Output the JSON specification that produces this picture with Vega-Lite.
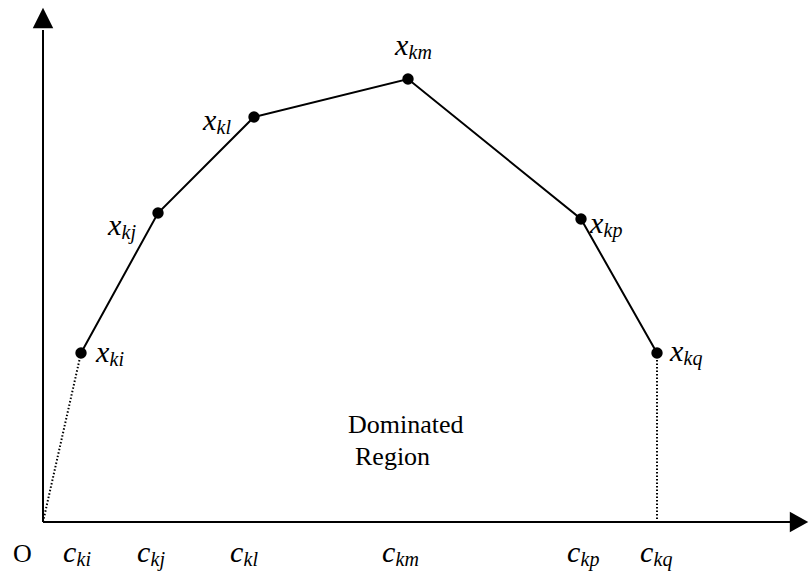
{
  "$schema": "https://vega.github.io/schema/vega-lite/v6.json",
  "width": 809,
  "height": 571,
  "padding": 0,
  "autosize": {"type": "fit", "contains": "padding"},
  "config": {"view": {"stroke": null}},
  "datasets": {
    "axes": [
      {"x": 0, "y": 0, "x2": 0, "y2": 49.2},
      {"x": 0, "y": 0, "x2": 75.2, "y2": 0}
    ],
    "dotted": [
      {"x": 0, "y": 0, "x2": 3.8, "y2": 16.9},
      {"x": 61.4, "y": 16.9, "x2": 61.4, "y2": 0}
    ],
    "upArrow": [{"x": 0, "y": 50.4}],
    "rightArrow": [{"x": 75.5, "y": 0}],
    "frontier": [
      {"i": 1, "name": "ki", "x": 3.8, "y": 16.9},
      {"i": 2, "name": "kj", "x": 11.5, "y": 30.9},
      {"i": 3, "name": "kl", "x": 21.1, "y": 40.5},
      {"i": 4, "name": "km", "x": 36.5, "y": 44.3},
      {"i": 5, "name": "kp", "x": 53.8, "y": 30.3},
      {"i": 6, "name": "kq", "x": 61.4, "y": 16.9}
    ],
    "labels": [
      {"main": "x", "sub": "ki", "x": 5.3, "y": 16.0},
      {"main": "x", "sub": "kj", "x": 6.5, "y": 28.7},
      {"main": "x", "sub": "kl", "x": 16.0, "y": 39.2},
      {"main": "x", "sub": "km", "x": 35.2, "y": 46.7},
      {"main": "x", "sub": "kp", "x": 54.7, "y": 28.9},
      {"main": "x", "sub": "kq", "x": 62.7, "y": 16.1},
      {"main": "c", "sub": "ki", "x": 2.0, "y": -4.0},
      {"main": "c", "sub": "kj", "x": 9.4, "y": -4.0},
      {"main": "c", "sub": "kl", "x": 18.7, "y": -4.0},
      {"main": "c", "sub": "km", "x": 33.9, "y": -4.0},
      {"main": "c", "sub": "kp", "x": 52.4, "y": -4.0},
      {"main": "c", "sub": "kq", "x": 59.7, "y": -4.0}
    ],
    "plain": [
      {"text": "O", "x": -3.0, "y": -4.0},
      {"text": "Dominated", "x": 30.5, "y": 8.9},
      {"text": "Region", "x": 31.2, "y": 5.7}
    ]
  },
  "encoding": {
    "x": {"field": "x", "type": "quantitative", "scale": {"domain": [-4.3, 76.6], "nice": false, "zero": false}, "axis": null},
    "y": {"field": "y", "type": "quantitative", "scale": {"domain": [-4.9, 52.2], "nice": false, "zero": false}, "axis": null}
  },
  "layer": [
    {
      "data": {"name": "axes"},
      "mark": {"type": "rule", "color": "black", "strokeWidth": 2},
      "encoding": {"x2": {"field": "x2"}, "y2": {"field": "y2"}}
    },
    {
      "data": {"name": "dotted"},
      "mark": {"type": "rule", "color": "black", "strokeWidth": 2, "strokeDash": [1.5, 2]},
      "encoding": {"x2": {"field": "x2"}, "y2": {"field": "y2"}}
    },
    {
      "data": {"name": "upArrow"},
      "mark": {"type": "point", "shape": "M0,-1L-1,1L1,1Z", "size": 420, "filled": true, "color": "black", "opacity": 1}
    },
    {
      "data": {"name": "rightArrow"},
      "mark": {"type": "point", "shape": "M1,0L-0.8,-1L-0.8,1Z", "size": 420, "filled": true, "color": "black", "opacity": 1}
    },
    {
      "data": {"name": "frontier"},
      "mark": {"type": "line", "color": "black", "strokeWidth": 2},
      "encoding": {"order": {"field": "i", "type": "quantitative"}}
    },
    {
      "data": {"name": "frontier"},
      "mark": {"type": "point", "shape": "circle", "size": 130, "filled": true, "color": "black", "opacity": 1}
    },
    {
      "data": {"name": "labels"},
      "mark": {"type": "text", "align": "left", "baseline": "alphabetic", "font": "Liberation Serif", "fontStyle": "italic", "fontSize": 30, "color": "black"},
      "encoding": {"text": {"field": "main"}}
    },
    {
      "data": {"name": "labels"},
      "mark": {"type": "text", "align": "left", "baseline": "alphabetic", "font": "Liberation Serif", "fontStyle": "italic", "fontSize": 20, "color": "black", "dx": 13.5, "dy": 4},
      "encoding": {"text": {"field": "sub"}}
    },
    {
      "data": {"name": "plain"},
      "mark": {"type": "text", "align": "left", "baseline": "alphabetic", "font": "Liberation Serif", "fontSize": 26, "color": "black"},
      "encoding": {"text": {"field": "text"}}
    }
  ]
}
